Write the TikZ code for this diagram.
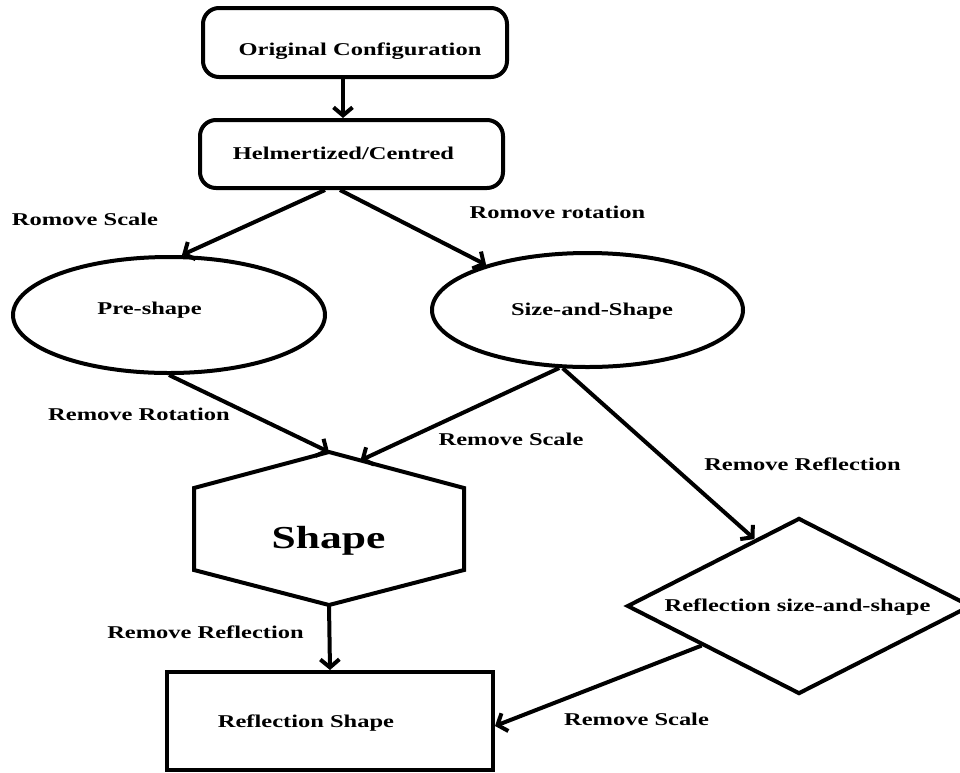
\documentclass[tikz,border=0pt]{standalone}
\usepackage{fontspec}
\setmainfont{Liberation Serif}[FakeStretch=1.36]
\usetikzlibrary{arrows.meta,shapes.geometric,calc}
\begin{document}
\begin{tikzpicture}[x=1pt,y=-1pt,line width=4pt,
  arr/.style={-{Straight Barb[length=8pt,width=19pt]}},
  lab/.style={font=\bfseries\fontsize{18}{21}\selectfont,anchor=base,inner sep=0pt},
  big/.style={font=\bfseries\fontsize{32}{36}\selectfont,anchor=base,inner sep=0pt},
  shp/.style={draw,inner sep=0pt}]
\useasboundingbox (0,0) rectangle (960,772);
\fill[white] (0,0) rectangle (960,772);

% shapes
\node[shp,rounded corners=16pt,minimum width=304pt,minimum height=69pt,
  label={[lab,xshift=5pt,yshift=-9pt]center:Original Configuration}] (orig) at (355,42.5) {};
\node[shp,rounded corners=16pt,minimum width=303pt,minimum height=68pt,
  label={[lab,xshift=-8pt,yshift=0.5pt]center:Helmertized/Centred}] (help) at (351.5,154) {};
\node[shp,ellipse,minimum width=312pt,minimum height=116pt,
  label={[lab,xshift=-19.5pt,yshift=5pt]center:Pre-shape}] (pre) at (169,315) {};
\node[shp,ellipse,minimum width=311pt,minimum height=114pt,
  label={[lab,xshift=4.5pt,yshift=-1pt]center:Size-and-Shape}] (size) at (587.5,310) {};
\node[inner sep=0pt,minimum width=266pt,minimum height=149pt,
  label={[big,xshift=-0.5pt,yshift=-12pt]center:Shape}] (hex) at (329,528.5) {};
\path ([yshift=-36pt]hex.north west) coordinate (hnw)
      ([yshift=35pt]hex.south west) coordinate (hsw)
      ([yshift=35pt]hex.south east) coordinate (hse)
      ([yshift=-36pt]hex.north east) coordinate (hne);
\draw (hex.north) -- (hnw) -- (hsw) -- (hex.south) -- (hse) -- (hne) -- cycle;
\node[shp,diamond,minimum width=344pt,minimum height=176pt,
  label={[lab,xshift=-1.5pt,yshift=-1pt]center:Reflection size-and-shape}] (dia) at (799,606) {};
\node[shp,minimum width=326pt,minimum height=98pt,
  label={[lab,xshift=-24pt,yshift=-2.5pt]center:Reflection Shape}] (rs) at (330,721) {};

% connectors
\draw[arr] ([xshift=-12pt]orig.south) -- ([xshift=-8.5pt]help.north);
\draw[arr] ([xshift=-26.5pt]help.south) -- ([xshift=13pt]pre.north);
\draw[arr] ([xshift=-11.5pt]help.south) -- (size.156);
\draw[arr] (pre.south) -- (hex.north);
\draw[arr] (size.244) -- ($(hex.north)!.233!(hne)$);
\draw[arr] (size.247) -- ($(dia.west)!.744!(dia.north)$);
\draw[arr] (hex.south) -- (rs.north);
\draw[arr] ($(dia.west)!.44!(dia.south)$) -- ([yshift=-5pt]rs.east);

% edge labels
\node[lab] (l1) at (85,225) {Romove Scale};
\node[lab] (l2) at (557.5,218) {Romove rotation};
\node[lab] (l3) at (139,420) {Remove Rotation};
\node[lab] (l4) at (511,445) {Remove Scale};
\node[lab] (l5) at (802.5,470) {Remove Reflection};
\node[lab] (l6) at (205.5,638) {Remove Reflection};
\node[lab] (l7) at (636.5,725) {Remove Scale};
\end{tikzpicture}
\end{document}
